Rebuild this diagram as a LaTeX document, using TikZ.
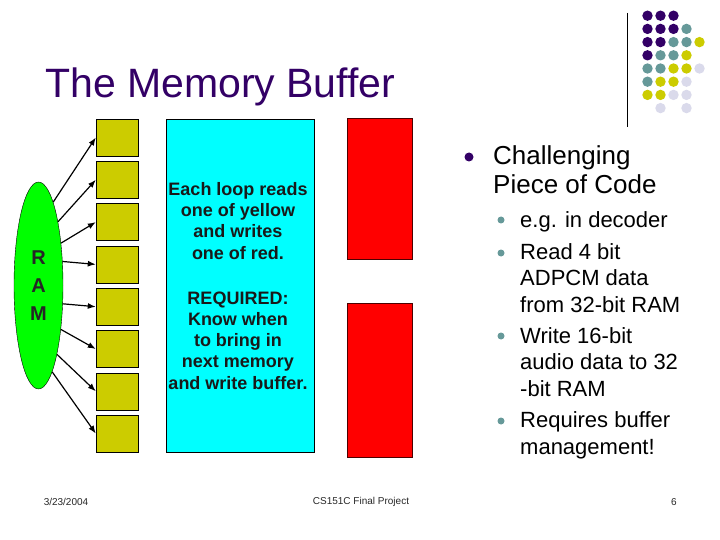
\documentclass[tikz,border=0pt]{standalone}
\usepackage{fontspec}
\setmainfont{Liberation Sans}
\usetikzlibrary{shapes.geometric, arrows.meta}

\definecolor{titlepurple}{RGB}{51,0,102}
\definecolor{dotteal}{RGB}{102,153,153}
\definecolor{dotyellow}{RGB}{204,204,0}
\definecolor{dotlilac}{RGB}{218,218,235}
\definecolor{bufyellow}{RGB}{204,204,0}
\definecolor{ramgreen}{RGB}{0,255,0}
\definecolor{loopcyan}{RGB}{0,255,255}
\definecolor{footgray}{RGB}{40,40,40}

\tikzset{
  yellowbuf/.style={draw=black, fill=bufyellow, minimum width=42pt, minimum height=37pt, inner sep=0pt},
  redbuf/.style={draw=black!70!red, fill=red, minimum width=65pt, inner sep=0pt},
  cyanbox/.style={draw=black, fill=loopcyan, minimum width=148pt, minimum height=333pt, inner sep=0pt},
  ramnode/.style={ellipse, draw=black, fill=ramgreen, minimum width=49pt, minimum height=207pt, inner sep=0pt,
    align=center, text=black!85, font=\bfseries\fontsize{20}{28}\selectfont},
  boxtext/.style={inner sep=0pt, anchor=base, align=center, text=black!90, font=\bfseries\fontsize{18}{21.2}\selectfont},
  maintext/.style={inner sep=0pt, anchor=base west, align=left, font=\fontsize{26}{29.5}\selectfont},
  subtext/.style={inner sep=0pt, anchor=base west, align=left, font=\fontsize{22}{26.3}\selectfont},
  maindot/.style={circle, fill=titlepurple, minimum size=9pt, inner sep=0pt},
  subdot/.style={circle, fill=dotteal, minimum size=7pt, inner sep=0pt},
  foottext/.style={inner sep=0pt, text=footgray, font=\fontsize{10}{12}\selectfont},
  readarrow/.style={-{Latex[length=8pt,width=6pt]}, line width=1.2pt},
}

\begin{document}
\begin{tikzpicture}[x=1pt, y=-1pt]
    \fill[white] (0,0) rectangle (720,540);
    \useasboundingbox (0,0) rectangle (720,540);
    % title
    \node[inner sep=0pt, anchor=base west, text=titlepurple, font=\fontsize{41}{48}\selectfont] (title) at (45,98) {The Memory Buffer};
    % corner decoration
    \draw[line width=0.8pt] (627,13) -- (627,127);
    \foreach \r/\c/\col in {0/0/titlepurple, 0/1/titlepurple, 0/2/titlepurple,
        1/0/titlepurple, 1/1/titlepurple, 1/2/titlepurple, 1/3/dotteal,
        2/0/titlepurple, 2/1/titlepurple, 2/2/dotteal, 2/3/dotteal, 2/4/dotyellow,
        3/0/titlepurple, 3/1/dotteal, 3/2/dotteal, 3/3/dotyellow,
        4/0/dotteal, 4/1/dotteal, 4/2/dotyellow, 4/3/dotyellow, 4/4/dotlilac,
        5/0/dotteal, 5/1/dotyellow, 5/2/dotyellow, 5/3/dotlilac,
        6/0/dotyellow, 6/1/dotyellow, 6/2/dotlilac, 6/3/dotlilac,
        7/1/dotlilac, 7/3/dotlilac}
        \fill[\col] ({647.5+13*\c},{15.7+13.2*\r}) circle (5.2);
    % RAM and the read buffers
    \node[ramnode] (ram) at (38.5,285.5) {R\\A\\M};
    \foreach \i in {1,...,8}
        \node[yellowbuf] (y\i) at (117,{137.5+42.3*(\i-1)}) {};
    \foreach \i/\a in {1/80, 2/73, 3/62, 4/45, 5/-37, 6/-63, 7/-75, 8/-81}
        \draw[readarrow] (ram.\a) -- (y\i.west);
    % processing box (base = last line)
    \node[cyanbox] (loop) at (240,285.5) {};
    \node[boxtext] (rule) at (238,259) {Each loop reads\\one of yellow\\and writes\\one of red.};
    \node[boxtext] (need) at (238,389) {REQUIRED:\\Know when\\to bring in\\next memory\\and write buffer.};
    % write buffers
    \node[redbuf, minimum height=141pt] (r1) at (379.5,188.5) {};
    \node[redbuf, minimum height=154pt] (r2) at (379.5,380) {};
    % bullets
    \node[maindot] (b0) at (469,157) {};
    \node[maintext] (code) at (493,194) {Challenging\\Piece of Code};
    \node[subdot] (d1) at (501,220) {};
    \node[subtext] (s1) at (520,227) {e.g. in decoder};
    \node[subdot] (d2) at (501,253) {};
    \node[subtext] (s2) at (520,312) {Read 4 bit\\ADPCM data\\from 32-bit RAM};
    \node[subdot] (d3) at (501,336) {};
    \node[subtext] (s3) at (520,396) {Write 16-bit\\audio data to 32\\-bit RAM};
    \node[subdot] (d4) at (501,421) {};
    \node[subtext] (s4) at (520,454) {Requires buffer\\management!};
    % footer
    \node[foottext] (date) at (66,502) {3/23/2004};
    \node[foottext] (proj) at (361,502) {CS151C Final Project};
    \node[foottext] (page) at (674,502) {6};
\end{tikzpicture}
\end{document}
